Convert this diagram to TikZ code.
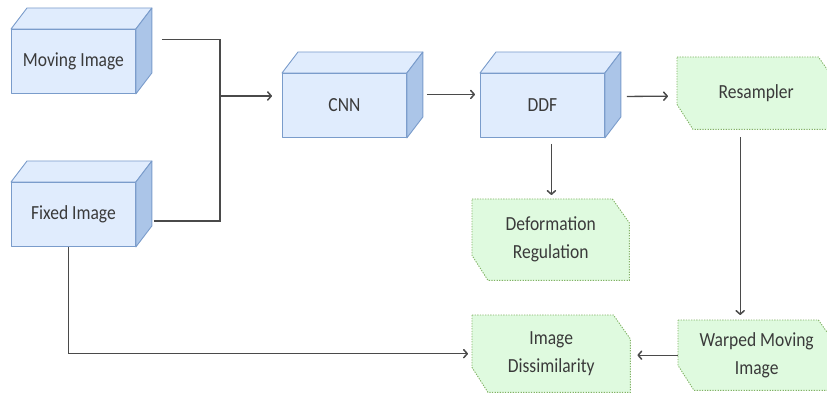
\documentclass[tikz,border=0pt]{standalone}
\usepackage{fontspec}
\setmainfont{Carlito}[FakeStretch=0.875]
\usetikzlibrary{arrows.meta,calc,backgrounds}
\definecolor{cubefill}{HTML}{E0ECFD}
\definecolor{cubeside}{HTML}{ABC5E8}
\definecolor{cubeline}{HTML}{7A9CCB}
\definecolor{procfill}{HTML}{DFFADF}
\definecolor{procline}{HTML}{82B366}
\definecolor{wirecol}{HTML}{4A4A4A}
\definecolor{txt}{HTML}{3A3A3A}

% top and side faces of a 3D block whose front face is node #1
\newcommand\blockfaces[1]{%
  \draw[cubeedge, fill=cubefill] (#1.north west) -- ($(#1.north west)+(16,-21)$)
     -- ($(#1.north east)+(16,-21)$) -- (#1.north east) -- cycle;
  \draw[cubeedge, fill=cubeside] (#1.north east) -- ($(#1.north east)+(16,-21)$)
     -- ($(#1.south east)+(16,-21)$) -- (#1.south east) -- cycle;}
% chamfered outline (top right and bottom left corners cut) around node #1
\newcommand\chamferbox[1]{%
  \draw[procedge] (#1.north west) -- ($(#1.north east)+(-17,0)$)
     -- ($(#1.north east)+(0,24)$) -- (#1.south east)
     -- ($(#1.south west)+(16,0)$) -- ($(#1.south west)+(0,-25)$) -- cycle;}

\begin{document}
\begin{tikzpicture}[x=1pt,y=-1pt,
  cubeedge/.style={draw=cubeline, line width=0.9pt, line join=round},
  block/.style={cubeedge, fill=cubefill, minimum width=124pt, minimum height=64pt,
    inner sep=0pt, anchor=north west, text=txt, font=\fontsize{20}{28}\selectfont},
  procedge/.style={draw=procline, fill=procfill, line width=0.9pt,
    dash pattern=on 1.3pt off 1.3pt},
  proc/.style={inner sep=0pt, anchor=north west, align=center, text=txt,
    font=\fontsize{20}{28}\selectfont},
  wire/.style={draw=wirecol, line width=1.3pt},
  arr/.style={wire, -{Straight Barb[length=3.5pt,width=8pt,line width=1.5pt,round]}},
]
\useasboundingbox (0,0) rectangle (827,395);
\clip (0,0) rectangle (827,395);

% 3D blocks
\node[block] (mov) at (11,29) {Moving Image};
\blockfaces{mov}
\node[block] (fix) at (11,182) {Fixed Image};
\blockfaces{fix}
\node[block] (cnn) at (282,73) {CNN};
\blockfaces{cnn}
\node[block] (ddf) at (480,73) {DDF};
\blockfaces{ddf}

% process steps
\node[proc, minimum width=157pt, minimum height=81pt] (reg) at (472,199) {Deformation\\Regulation};
\node[proc, minimum width=158pt, minimum height=72pt] (res) at (677,57) {Resampler};
\node[proc, minimum width=157pt, minimum height=70pt] (wmi) at (678,320) {Warped Moving\\Image};
\node[proc, minimum width=158pt, minimum height=77pt] (dis) at (472,315) {Image\\Dissimilarity};
\begin{scope}[on background layer]
  \chamferbox{reg}
  \chamferbox{res}
  \chamferbox{wmi}
  \chamferbox{dis}
\end{scope}

% connectors
\coordinate (jn) at (220,96);
\draw[wire] ($(mov.east)+(26,-22)$) -| (jn);
\draw[wire] ($(fix.east)+(18,6.5)$) -| (jn);
\draw[arr] (jn) -- ($(cnn.west |- jn)+(-10,0)$);
\draw[arr] ($(cnn.east)+(20,-11)$) -- ($(ddf.west)+(-5,-11)$);
\draw[arr] ($(ddf.east)+(22,-9)$) -- ($(res.west)+(-9,3)$);
\draw[arr, shorten >=4pt] ($(ddf.south)+(9,6)$) coordinate (d0) -- (d0 |- reg.north);
\draw[arr, shorten >=5pt] ($(res.south)+(-16,8)$) coordinate (r0) -- (r0 |- wmi.north);
\draw[arr, shorten >=7pt] (wmi.west) -- (wmi.west -| dis.east);
\draw[arr, shorten >=4pt] ($(fix.south)+(-5,0)$) |- (dis.west);
\end{tikzpicture}
\end{document}
